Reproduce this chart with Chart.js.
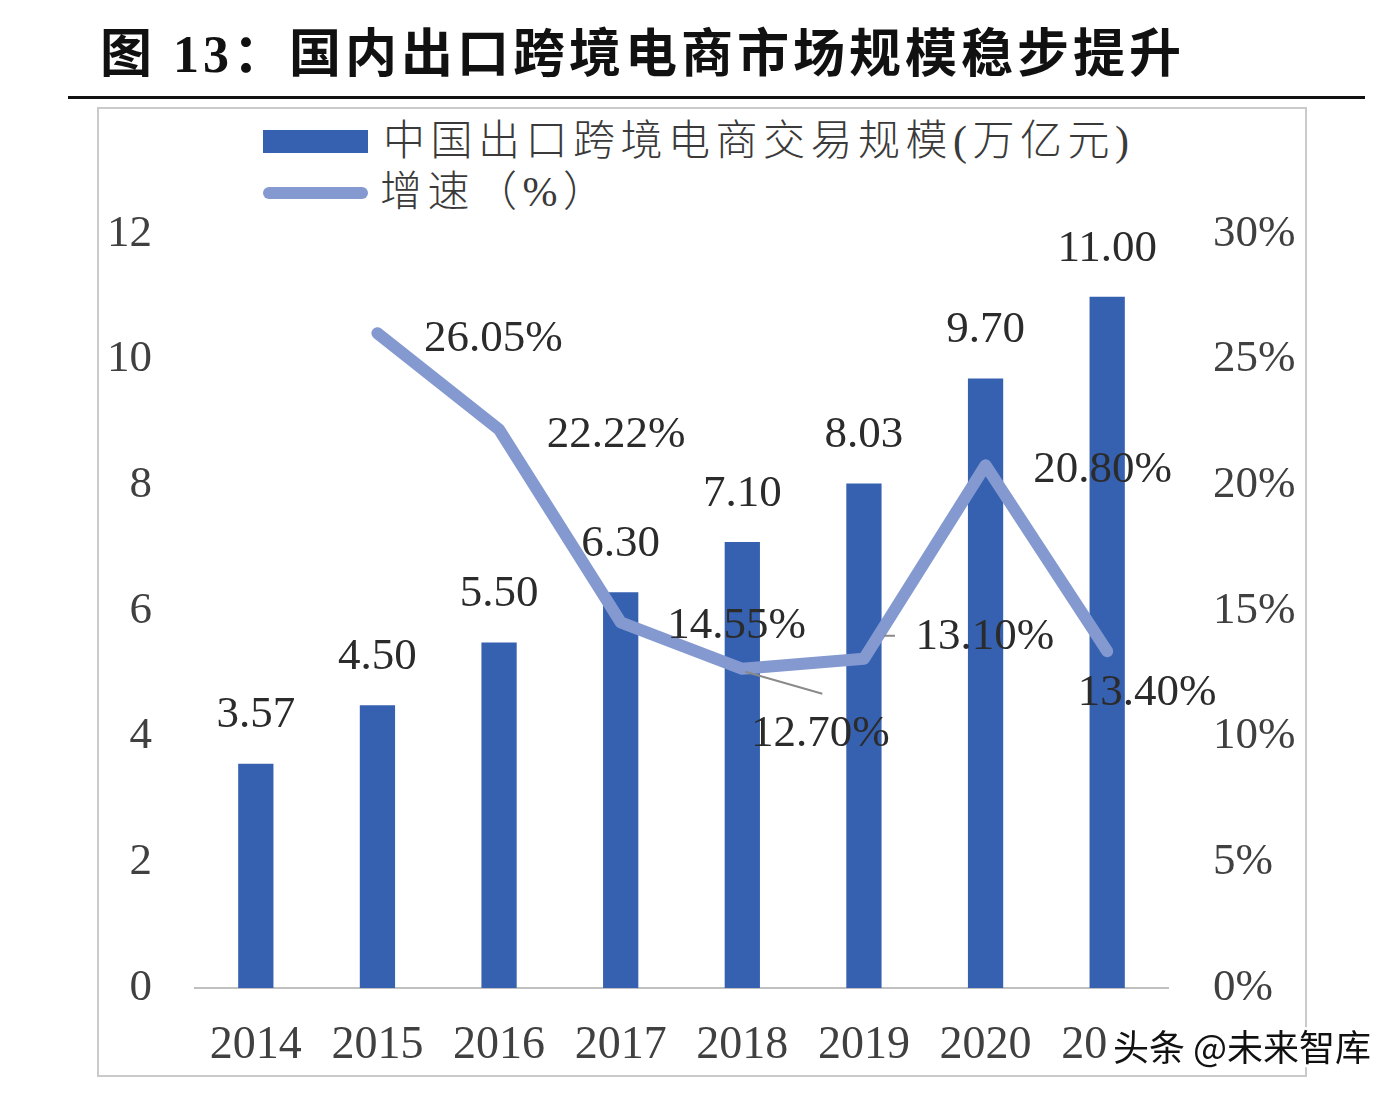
<!DOCTYPE html>
<html><head><meta charset="utf-8">
<script src="https://cdn.jsdelivr.net/npm/chart.js@4.4.1/dist/chart.umd.min.js"></script>
<style>
html,body{margin:0;padding:0;background:#fff;width:1398px;height:1094px;overflow:hidden;position:relative;}
#title{position:absolute;left:100px;top:25px;font-family:"Liberation Serif","Noto Sans CJK SC";font-weight:bold;font-size:52px;line-height:60px;color:#111;letter-spacing:4px;white-space:nowrap;}
#rule{position:absolute;left:68px;top:96px;width:1297px;height:3px;background:#111;}
#box{position:absolute;left:97px;top:107px;width:1210px;height:970px;border:2px solid #cacaca;box-sizing:border-box;}
.leg{position:absolute;left:263px;height:50px;white-space:nowrap;font-family:"Liberation Serif","Noto Sans CJK SC";font-weight:300;font-size:42px;line-height:50px;color:#3a3a3a;letter-spacing:5.5px;}
.sw{position:absolute;left:0;}
.lt{position:absolute;left:118px;top:0;}
canvas{position:absolute;left:0;top:0;}
</style></head>
<body>
<div id="title">图 13：国内出口跨境电商市场规模稳步提升</div>
<div id="rule"></div>
<div id="box"></div>
<div class="leg" id="leg1" style="top:116px"><div class="sw" style="top:14px;width:105px;height:23px;background:#3561B0"></div><div class="lt" id="lt1" style="left:120px"></div></div>
<div class="leg" id="leg2" style="top:167px"><div class="sw" style="top:20px;width:105px;height:12px;border-radius:6px;background:#8599D1"></div><div class="lt" id="lt2" style="left:117px"></div></div>
<canvas id="c" width="1398" height="1094"></canvas>
<script>
const categories = ['2014','2015','2016','2017','2018','2019','2020','2021'];
const scaleValues = [3.57, 4.50, 5.50, 6.30, 7.10, 8.03, 9.70, 11.00];
const growthValues = [null, 26.05, 22.22, 14.55, 12.70, 13.10, 20.80, 13.40];
const scaleLabels = ['3.57','4.50','5.50','6.30','7.10','8.03','9.70','11.00'];
const growthLabels = ['', '26.05%', '22.22%', '14.55%', '12.70%', '13.10%', '20.80%', '13.40%'];
const seriesNames = ['中国出口跨境电商交易规模(万亿元)', '增速（%）'];
const watermark = '头条 @未来智库';

document.getElementById('lt1').textContent = seriesNames[0];
document.getElementById('lt2').textContent = seriesNames[1];

const BAR = '#3561B0', LINE = '#8599D1', TXT = '#2b2b2b', AX = '#404040';
const numFont = {family: 'Liberation Serif', size: 45};

// label offsets (relative to each line point), styling only
const lineLabelOffsets = [null,[116,6],[117,6],[116,4],[78,65],[121,-22],[117,5],[40,42]];

const labelPlugin = {
  id: 'labels',
  afterDatasetsDraw(chart) {
    const ctx = chart.ctx;
    ctx.save();
    ctx.font = '45px "Liberation Serif"';
    ctx.fillStyle = TXT;
    ctx.textAlign = 'center';
    ctx.textBaseline = 'middle';
    const barMeta = chart.getDatasetMeta(0);
    barMeta.data.forEach((el, i) => {
      ctx.fillText(scaleLabels[i], el.x, el.y - 48);
    });
    const lineMeta = chart.getDatasetMeta(1);
    lineMeta.data.forEach((el, i) => {
      const off = lineLabelOffsets[i];
      if (!off || growthValues[i] == null) return;
      const lx = el.x + off[0], ly = el.y + off[1];
      if (i === 4) {
        ctx.strokeStyle = '#8a8a8a'; ctx.lineWidth = 2;
        ctx.beginPath(); ctx.moveTo(el.x + 3, el.y + 3); ctx.lineTo(el.x + 80, el.y + 25); ctx.stroke();
      }
      if (i === 5) {
        ctx.strokeStyle = '#8a8a8a'; ctx.lineWidth = 2;
        ctx.beginPath(); ctx.moveTo(el.x + 20, el.y - 23); ctx.lineTo(el.x + 31, el.y - 23); ctx.stroke();
      }
      ctx.fillText(growthLabels[i], lx, ly);
    });
    ctx.restore();
  },
  afterDraw(chart) {
    const ctx = chart.ctx;
    ctx.save();
    ctx.fillStyle = '#fff';
    ctx.fillRect(1109, 1022, 189, 48);
    ctx.font = '36px "Noto Sans CJK SC"';
    ctx.textAlign = 'left';
    ctx.textBaseline = 'middle';
    ctx.lineJoin = 'round';
    ctx.strokeStyle = '#fff';
    ctx.lineWidth = 6;
    ctx.strokeText(watermark, 1113, 1047);
    ctx.fillStyle = '#111';
    ctx.fillText(watermark, 1113, 1047);
    ctx.restore();
  }
};

new Chart(document.getElementById('c'), {
  data: {
    labels: categories,
    datasets: [
      {type: 'bar', label: seriesNames[0], data: scaleValues, backgroundColor: BAR, yAxisID: 'y', order: 2,
       categoryPercentage: 1, barPercentage: 0.29},
      {type: 'line', label: seriesNames[1], data: growthValues, borderColor: LINE, borderWidth: 12,
       pointRadius: 0, borderJoinStyle: 'round', borderCapStyle: 'round', tension: 0, yAxisID: 'y1', order: 1,
       spanGaps: false}
    ]
  },
  options: {
    responsive: false, devicePixelRatio: 1, animation: false,
    layout: {padding: {top: 234, left: 0, right: 0, bottom: 0}},
    plugins: {legend: {display: false}, tooltip: {enabled: false}},
    scales: {
      x: {
        grid: {display: false, drawTicks: false},
        border: {display: true, color: '#c0c0c0', width: 2},
        ticks: {font: {family: 'Liberation Serif', size: 46}, color: AX, padding: 30, maxRotation: 0, autoSkip: false},
        afterFit(s) { s.height = 106; }
      },
      y: {
        position: 'left', min: 0, max: 12,
        grid: {display: false, drawTicks: false},
        border: {display: false},
        ticks: {stepSize: 2, font: numFont, color: AX, padding: 43},
        afterFit(s) { s.width = 195; }
      },
      y1: {
        position: 'right', min: 0, max: 30,
        grid: {display: false, drawTicks: false},
        border: {display: false},
        ticks: {stepSize: 5, font: numFont, color: AX, padding: 45, callback: v => v + '%'},
        afterFit(s) { s.width = 230; }
      }
    }
  },
  plugins: [labelPlugin]
});
</script>
</body></html>
